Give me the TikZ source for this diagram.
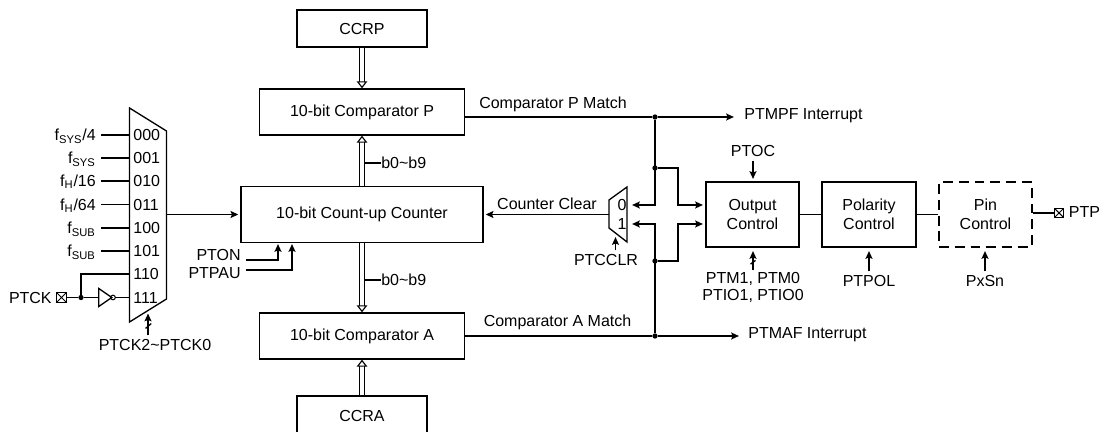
\documentclass[tikz,border=0pt]{standalone}
\usepackage{fontspec}
\setmainfont{Liberation Sans}
\usetikzlibrary{arrows.meta,shapes.geometric}

\begin{document}
\begin{tikzpicture}[x=0.02cm,y=-0.02cm,font=\fontsize{9.1}{10.6}\selectfont,
    blk/.style={draw,line width=0.75pt,align=center,inner sep=0pt},
    pinblk/.style={blk,dash pattern=on 5.6pt off 3.4pt},
    lab/.style={inner sep=0pt,text height=6.5pt,text depth=0pt},
    inlab/.style={lab,anchor=east,inner xsep=2.8pt},
    bitlab/.style={lab,anchor=west,inner xsep=2pt},
    wire/.style={line width=0.75pt},
    arr/.style={wire,-{Stealth[length=4.4pt,width=4pt,inset=0.8pt]},shorten >=1.2pt},
    ctl/.style={arr,shorten <=2pt},
    dbl/.style={line width=0.65pt,double,double distance=1.9pt,
                -{Triangle[open,fill=white,length=4pt,width=6pt,line width=0.65pt]}},
    dot/.style={circle,fill,inner sep=0pt,minimum size=3pt},
    pad/.style={draw,line width=0.8pt,inner sep=0pt,minimum size=5.4pt,
                path picture={\draw[line width=0.6pt]
                  (path picture bounding box.north west) -- (path picture bounding box.south east)
                  (path picture bounding box.north east) -- (path picture bounding box.south west);}},
    inv/.style={draw,line width=0.75pt,isosceles triangle,isosceles triangle stretches,
                inner sep=0pt,minimum width=0.36cm,minimum height=0.26cm},
    bub/.style={draw,circle,line width=0.6pt,inner sep=0pt,minimum size=2.6pt}]
  \useasboundingbox (0,0) rectangle (1100,432);
  % blocks
  \node[blk,minimum width=2.6cm,minimum height=0.74cm] (ccrp) at (362,28.5) {CCRP};
  \node[blk,minimum width=4.1cm,minimum height=0.92cm] (cmpp) at (362,112) {10-bit Comparator P};
  \node[blk,minimum width=4.84cm,minimum height=1.12cm] (cnt) at (362,214.5) {10-bit Count-up Counter};
  \node[blk,minimum width=4.1cm,minimum height=0.92cm] (cmpa) at (362,336) {10-bit Comparator A};
  \node[blk,minimum width=2.6cm,minimum height=0.8cm] (ccra) at (362,416) {CCRA};
  \node[blk,minimum width=1.86cm,minimum height=1.3cm] (outc) at (752.5,214.5) {Output\\Control};
  \node[blk,minimum width=1.88cm,minimum height=1.3cm] (polc) at (869,214.5) {Polarity\\Control};
  \node[pinblk,minimum width=1.86cm,minimum height=1.3cm] (pinc) at (985.5,214.5) {Pin\\Control};
  % clock select
  \draw[wire] (129.5,108) -- (166.5,131) -- (166.5,299) -- (129.5,322) -- cycle;
  \coordinate (muxo) at (166.5,214.5);
  \node[inlab] (f0) at (101,135) {f\textsubscript{SYS}/4};
  \node[inlab] (f1) at (101,158) {f\textsubscript{SYS}};
  \node[inlab] (f2) at (101,181) {f\textsubscript{H}/16};
  \node[inlab] (f3) at (101,204.5) {f\textsubscript{H}/64};
  \node[inlab] (f4) at (101,228) {f\textsubscript{SUB}};
  \node[inlab] (f5) at (101,251) {f\textsubscript{SUB}};
  \node[bitlab] (b0) at (129.5,135) {000};
  \node[bitlab] (b1) at (129.5,158) {001};
  \node[bitlab] (b2) at (129.5,181) {010};
  \node[bitlab] (b3) at (129.5,204.5) {011};
  \node[bitlab] (b4) at (129.5,228) {100};
  \node[bitlab] (b5) at (129.5,251) {101};
  \node[bitlab] (b6) at (129.5,274) {110};
  \node[bitlab] (b7) at (129.5,297.5) {111};
  \draw[wire] (f0.east) -- (b0.west);
  \draw[wire] (f1.east) -- (b1.west);
  \draw[wire] (f2.east) -- (b2.west);
  \draw[wire] (f3.east) -- (b3.west);
  \draw[wire] (f4.east) -- (b4.west);
  \draw[wire] (f5.east) -- (b5.west);
  \node[lab,anchor=east] (ptck) at (52,297.5) {PTCK};
  \node[pad] (ptckp) at (61.5,297.5) {};
  \node[dot] (jck) at (81,297.5) {};
  \node[inv] (ninv) at (103.5,297.5) {};
  \node[bub] (nbub) at (113,297.5) {};
  \draw[wire] (ptckp) -- (jck) -- (ninv.west);
  \draw[wire] (nbub) -- (b7.west);
  \draw[wire] (jck) |- (b6.west);
  \node[lab] (ptcks) at (155,345) {PTCK2\char`~PTCK0};
  \coordinate (slk) at (148,311.5);
  \draw[ctl] (ptcks.north -| slk) -- (slk);
  \node[inner sep=0pt] (slk1) at (144.3,329.5) {};
  \node[inner sep=0pt] (slk2) at (152.5,322.5) {};
  \draw[wire] (slk1) -- (slk2);
  \draw[arr] (muxo) -- (cnt);
  % counter controls
  \node[lab,anchor=east] (pton) at (241,255) {PTON};
  \node[lab,anchor=east] (ptpau) at (241,272.5) {PTPAU};
  \coordinate (pton1) at (246,260);
  \coordinate (ptpau1) at (246,270);
  \draw[arr] (pton1) -| (278,242);
  \draw[arr] (ptpau1) -| (292,242);
  % data paths
  \draw[dbl] (ccrp) -- (cmpp);
  \draw[dbl] (cnt) -- (cmpp);
  \draw[dbl] (cnt) -- (cmpa);
  \draw[dbl] (ccra) -- (cmpa);
  \coordinate (tp) at (364.5,163);
  \coordinate (ta) at (364.5,280);
  \node[lab,anchor=west] (bp) at (381,163) {b0\char`~b9};
  \node[lab,anchor=west] (ba) at (381,280) {b0\char`~b9};
  \draw[wire] (tp) -- (bp.west);
  \draw[wire] (ta) -- (ba.west);
  % match lines
  \node[dot] (jp) at (655,117) {};
  \node[dot] (ja) at (655,336) {};
  \node[dot] (jp2) at (655,168) {};
  \node[dot] (ja2) at (655,261) {};
  \node[lab,anchor=west] (ptmpf) at (744,114) {PTMPF Interrupt};
  \node[lab,anchor=west] (ptmaf) at (748,333) {PTMAF Interrupt};
  \node[lab] (pmatch) at (553,103) {Comparator P Match};
  \node[lab] (amatch) at (557.5,321) {Comparator A Match};
  \coordinate (endp) at (736,117);
  \coordinate (enda) at (741,336);
  \draw[wire] (cmpp.east |- jp) -- (jp);
  \draw[arr] (jp) -- (endp);
  \draw[wire] (cmpa.east |- ja) -- (ja);
  \draw[arr] (ja) -- (enda);
  % counter clear select
  \draw[wire] (609,200) -- (627,187) -- (627,242) -- (609,228) -- cycle;
  \node[lab] (m0) at (622,205) {0};
  \node[lab] (m1) at (622,224) {1};
  \coordinate (clro) at (609,214.5);
  \node[lab] (cclr) at (547,204) {Counter Clear};
  \draw[arr] (clro) -- (cnt);
  \node[lab] (ptcclr) at (606,260) {PTCCLR};
  \coordinate (clrs) at (615.5,235);
  \draw[ctl] (ptcclr.north -| clrs) -- (clrs);
  \coordinate (m0r) at (630,205);
  \coordinate (m1r) at (630,224);
  \coordinate (o0) at (705,205);
  \coordinate (o1) at (705,224);
  \draw[arr] (jp) |- (m0r);
  \draw[arr] (ja) |- (m1r);
  \draw[arr] (jp2) -- (678,168) |- (o0);
  \draw[arr] (ja2) -- (678,261) |- (o1);
  % output path
  \draw[wire] (outc) -- (polc);
  \draw[wire] (polc) -- (pinc);
  \node[pad] (ptpp) at (1059,213) {};
  \node[lab,anchor=west] (ptp) at (1068.5,212) {PTP};
  \draw[wire] (pinc.east |- ptpp) -- (ptpp);
  % control inputs
  \node[lab] (ptoc) at (753,151) {PTOC};
  \draw[ctl] (ptoc) -- (753,181);
  \node[align=center,inner sep=0pt] (ptm) at (753,287.5) {PTM1, PTM0\\[-1pt]PTIO1, PTIO0};
  \coordinate (ptm1) at (753,270);
  \coordinate (ptm2) at (753,249);
  \draw[arr] (ptm1) -- (ptm2);
  \node[inner sep=0pt] (slo1) at (749.3,265) {};
  \node[inner sep=0pt] (slo2) at (756.7,259.5) {};
  \draw[wire] (slo1) -- (slo2);
  \node[lab] (ptpol) at (869,281) {PTPOL};
  \draw[ctl] (ptpol) -- (869,249);
  \node[lab] (pxsn) at (985,281) {PxSn};
  \draw[ctl] (pxsn) -- (985,249);
\end{tikzpicture}
\end{document}
